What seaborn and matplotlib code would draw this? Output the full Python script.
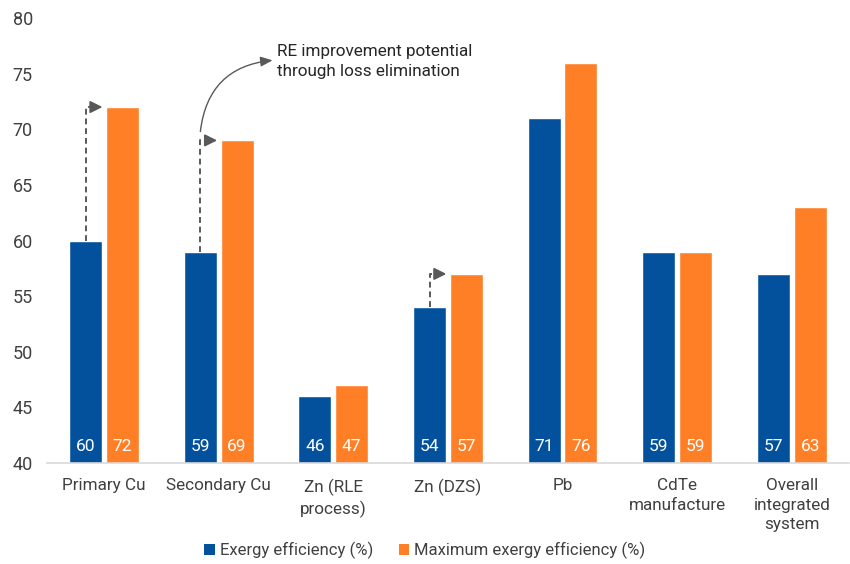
import matplotlib
matplotlib.use("Agg")
import matplotlib.pyplot as plt
from matplotlib.patches import Patch
import seaborn as sns
import pandas as pd

categories = ["Primary Cu", "Secondary Cu", "Zn (RLE\nprocess)", "Zn (DZS)",
              "Pb", "CdTe\nmanufacture", "Overall\nintegrated\nsystem"]
exergy = [60, 59, 46, 54, 71, 59, 57]
max_exergy = [72, 69, 47, 57, 76, 59, 63]
series_names = ["Exergy efficiency (%)", "Maximum exergy efficiency (%)"]
arrow_groups = ["Primary Cu", "Secondary Cu", "Zn (DZS)"]
note_text = "RE improvement potential\nthrough loss elimination"

BLUE = "#03519C"
ORANGE = "#FF7F27"
TEXT = "#404040"
ARROW = "#595959"

df = pd.DataFrame({
    "category": categories * 2,
    "value": exergy + max_exergy,
    "series": [series_names[0]] * len(categories) + [series_names[1]] * len(categories),
})

sns.set_theme(style="white")
plt.rcParams["font.family"] = ["Roboto", "DejaVu Sans"]

fig = plt.figure(figsize=(8.5, 5.64), dpi=100)
ax = fig.add_axes([0.055, 0.179, 0.944, 0.789])

sns.barplot(data=df, x="category", y="value", hue="series", order=categories,
            hue_order=series_names, palette=[BLUE, ORANGE], width=0.64, gap=0.1,
            saturation=1, legend=False, ax=ax)

ax.set_ylim(40, 80)
ax.set_xlim(-0.5, len(categories) - 0.5)
ax.set_yticks(range(40, 81, 5))
ax.set_xlabel("")
ax.set_ylabel("")
ax.tick_params(axis="both", length=0, labelcolor=TEXT)
ax.tick_params(axis="x", pad=11, labelsize=12.3)
ax.tick_params(axis="y", pad=10, labelsize=13)
for lab in ax.get_xticklabels():
    lab.set_linespacing(1.35)
for side in ["top", "right", "left"]:
    ax.spines[side].set_visible(False)
ax.spines["bottom"].set_color("#D9D9D9")
ax.spines["bottom"].set_linewidth(1.2)

# bars: first the blue series, then the orange one
n = len(categories)
blue_bars = ax.patches[:n]
orange_bars = ax.patches[n:2 * n]

# value labels at the foot of each bar
for bars, vals in ((blue_bars, exergy), (orange_bars, max_exergy)):
    for bar, v in zip(bars, vals):
        ax.text(bar.get_x() + bar.get_width() / 2, 40.8, f"{v}",
                ha="center", va="bottom", color="white", fontsize=12.5)

# dashed elbow arrows showing the gap to the maximum
for name in arrow_groups:
    i = categories.index(name)
    bb, ob = blue_bars[i], orange_bars[i]
    x0 = bb.get_x() + bb.get_width() / 2
    x1 = ob.get_x() - 0.03
    y0, y1 = exergy[i], max_exergy[i]
    ax.plot([x0, x0, x1 - 0.08], [y0, y1, y1], color=ARROW, lw=1.4,
            linestyle=(0, (3, 2)), solid_capstyle="butt")
    ax.annotate("", xy=(x1, y1), xytext=(x1 - 0.09, y1),
                arrowprops=dict(arrowstyle="-|>,head_length=0.6,head_width=0.3",
                                color=ARROW, lw=1.4, shrinkA=0, shrinkB=0))

# curved call-out arrow and note
i = categories.index("Secondary Cu")
bb = blue_bars[i]
xs = bb.get_x() + bb.get_width() / 2
ax.annotate("", xy=(xs + 0.63, 76.2), xytext=(xs, 69.8),
            arrowprops=dict(arrowstyle="-|>,head_length=0.6,head_width=0.25",
                            color=ARROW, lw=1.0, shrinkA=0, shrinkB=0,
                            connectionstyle="arc3,rad=-0.4"))
ax.text(xs + 0.67, 76.1, note_text, ha="left", va="center", fontsize=12.3,
        color="#262626", linespacing=1.35)

handles = [Patch(facecolor=BLUE, edgecolor="none"),
           Patch(facecolor=ORANGE, edgecolor="none")]
fig.legend(handles, series_names, loc="lower center", bbox_to_anchor=(0.5, -0.018),
           ncol=2, frameon=False, fontsize=12, handlelength=0.65, handleheight=0.65,
           handletextpad=0.3, columnspacing=1.5, labelcolor=TEXT)

fig.savefig("out.png", dpi=100)
